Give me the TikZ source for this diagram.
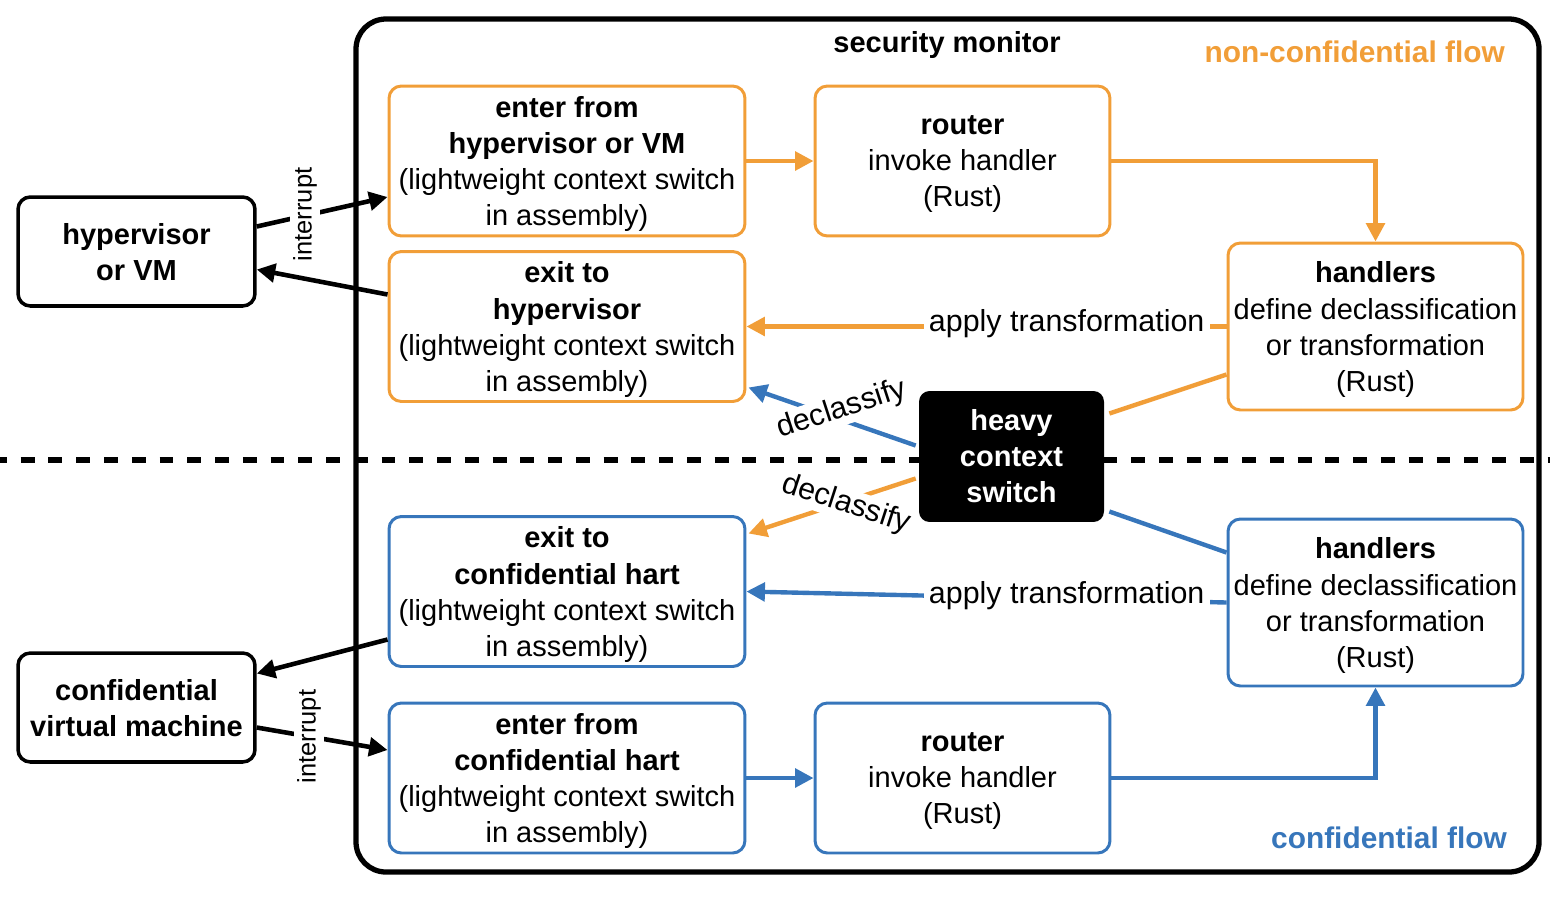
\documentclass[tikz,border=0pt]{standalone}
\usepackage{fontspec}
\setmainfont{Liberation Sans}
\usetikzlibrary{arrows.meta,calc}
\definecolor{orng}{RGB}{241,158,56}
\definecolor{blu}{RGB}{55,118,187}
\begin{document}
\begin{tikzpicture}[x=0.02cm,y=-0.02cm,
  every node/.style={font=\fontsize{16.5}{20.5}\selectfont},
  basebox/.style={line width=1.7pt, rounded corners=7pt, align=center, inner sep=2pt, text depth=0pt},
  wide/.style={basebox, minimum width=7.12cm, minimum height=3.0cm},
  router/.style={basebox, minimum width=5.9cm, minimum height=3.0cm},
  handler/.style={basebox, minimum width=5.9cm, minimum height=3.34cm},
  outside/.style={draw=black, line width=2pt, rounded corners=7pt, align=center, text depth=0pt, minimum width=4.74cm, minimum height=2.18cm, font=\fontsize{16.5}{20.5}\selectfont\bfseries},
  heavybox/.style={fill=black, text=white, rounded corners=6pt, align=center, minimum width=3.7cm, minimum height=2.62cm, font=\fontsize{16.5}{20.5}\selectfont\bfseries},
  tip/.style={-{Triangle[length=10.5pt,width=10.5pt]}},
  oarrow/.style={draw=orng, line width=2.5pt},
  barrow/.style={draw=blu, line width=2.5pt},
  karrow/.style={draw=black, line width=2.6pt},
  lbl/.style={fill=white, inner sep=3pt, font=\fontsize{17.3}{20.5}\selectfont},
  ilbl/.style={fill=white, inner sep=2pt, rotate=90, font=\fontsize{14.5}{17}\selectfont},
  title/.style={font=\fontsize{16.5}{20.5}\selectfont\bfseries}
]
\useasboundingbox (0,0) rectangle (1550,900);

% security monitor frame
\draw[line width=3pt, rounded corners=0.6cm] (356,19) rectangle (1539,872);
% divider
\draw[line width=3.2pt, dash pattern=on 7.9pt off 7.9pt, dash phase=4pt] (0,460) -- (1550,460);

\node[title] (smt) at (947,45) {security monitor};
\node[title, text=orng, font=\fontsize{17}{20.5}\selectfont\bfseries, anchor=east] (nct) at (1511,52) {non-confidential flow};
\node[title, text=blu, font=\fontsize{17}{20.5}\selectfont\bfseries, anchor=east] (cft) at (1513,838) {confidential flow};

% outside boxes
\node[outside] (hyp) at (136.5,251.5) {hypervisor\\or VM};
\node[outside] (cvm) at (136.5,707.5) {confidential\\virtual machine};

% non-confidential side
\node[wide, draw=orng] (enh) at (567,161) {\textbf{enter from}\\\textbf{hypervisor or VM}\\(lightweight context switch\\in assembly)};
\node[router, draw=orng] (rth) at (962.5,161) {\textbf{router}\\invoke handler\\(Rust)};
\node[wide, draw=orng] (exh) at (567,326.5) {\textbf{exit to}\\\textbf{hypervisor}\\(lightweight context switch\\in assembly)};
\node[handler, draw=orng] (hdt) at (1375.5,326.5) {\textbf{handlers}\\define declassification\\or transformation\\(Rust)};

% heavy context switch
\node[heavybox] (hcs) at (1011.5,456.5) {heavy\\context\\switch};

% confidential side
\node[wide, draw=blu] (exc) at (567,591.5) {\textbf{exit to}\\\textbf{confidential hart}\\(lightweight context switch\\in assembly)};
\node[handler, draw=blu] (hdb) at (1375.5,602.5) {\textbf{handlers}\\define declassification\\or transformation\\(Rust)};
\node[wide, draw=blu] (enc) at (567,778) {\textbf{enter from}\\\textbf{confidential hart}\\(lightweight context switch\\in assembly)};
\node[router, draw=blu] (rtc) at (962.5,778) {\textbf{router}\\invoke handler\\(Rust)};

% black connectors
\draw[karrow, tip] ($(hyp.east)+(0,-25)$) -- node[ilbl, pos=0.41, yshift=3pt] {interrupt} ($(enh.west)+(0,36)$);
\draw[karrow, tip] ($(exh.west)+(0,-32)$) -- ($(hyp.east)+(0,18)$);
\draw[karrow, tip] ($(exc.west)+(0,48)$) -- ($(cvm.east)+(0,-34)$);
\draw[karrow, tip] ($(cvm.east)+(0,20)$) -- node[ilbl, pos=0.40] {interrupt} ($(enc.west)+(0,-28)$);

% orange connectors
\draw[oarrow, tip] (enh.east) -- (rth.west);
\draw[oarrow, tip] (rth.east) -| (hdt.north);
\draw[oarrow, tip] (hdt.west) -- node[lbl, pos=0.333, yshift=1.5pt] {apply transformation} (exh.east);
\draw[oarrow] ($(hdt.west)+(0,48)$) -- ($(hcs.east)+(5,-43)$);
\draw[oarrow, tip] ($(hcs.west)+(-3,22)$) -- node[lbl, pos=0.41, rotate=-18, yshift=-2pt, inner sep=1pt] {declassify} ($(exc.east)+(2,-58)$);

% blue connectors
\draw[barrow, tip] ($(hcs.west)+(-3,-11)$) -- node[lbl, pos=0.42, rotate=18, yshift=7pt, inner sep=1pt] {declassify} ($(exh.east)+(2,61)$);
\draw[barrow] ($(hcs.east)+(5,55)$) -- ($(hdb.west)+(0,-50)$);
\draw[barrow, tip] (hdb.west) -- node[lbl, pos=0.333, yshift=2pt] {apply transformation} (exc.east);
\draw[barrow, tip] (enc.east) -- (rtc.west);
\draw[barrow, tip] (rtc.east) -| (hdb.south);
\end{tikzpicture}
\end{document}
